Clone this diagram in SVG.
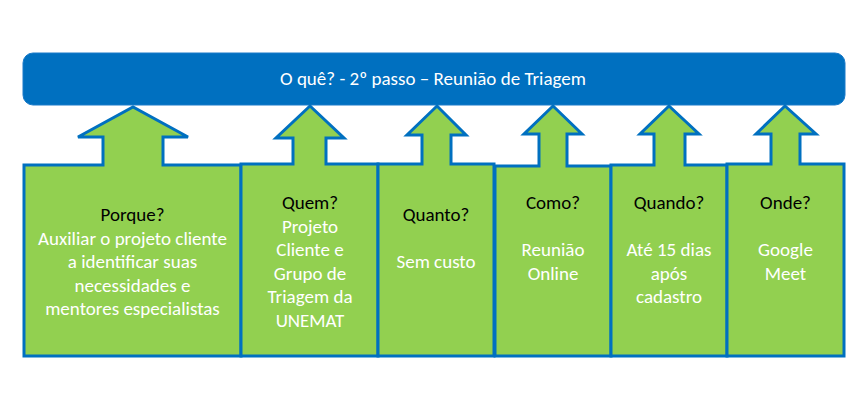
<svg xmlns="http://www.w3.org/2000/svg" width="867" height="410" viewBox="0 0 867 410">
<style>
.shape{fill:#92D050;stroke:#0070C0;stroke-width:3;stroke-linejoin:miter}
text{font-family:Carlito,Lato,"Liberation Sans",sans-serif;font-size:19px;text-anchor:middle}
.h{fill:#000000}
.b{fill:#FFFFFF}
</style>
<rect width="867" height="410" fill="#FFFFFF"/>
<g id="header">
<rect x="23" y="53" width="822" height="52" rx="10" fill="#0070C0" stroke="#1A7BC9" stroke-width="1"/>
<text x="433" y="85" class="b">O quê? - 2º passo – Reunião  de Triagem</text>
</g>
<g id="porque">
<path class="shape" d="M24,165 H103 V137 H78 L133,107 L188,137 H163 V165 H241 V356 H24 Z"/>
<text x="132.5" y="221" class="h">Porque?</text>
<text x="132.5" y="244.5" class="b">Auxiliar  o projeto cliente</text>
<text x="132.5" y="268" class="b">a identificar  suas</text>
<text x="132.5" y="291.5" class="b">necessidades  e</text>
<text x="132.5" y="315" class="b">mentores  especialistas</text>
</g>
<g id="quem">
<path class="shape" d="M241,164 H293 V138 H276 L310,106 L344,138 H326 V164 H378 V356 H241 Z"/>
<text x="310" y="209" class="h">Quem?</text>
<text x="310" y="232.5" class="b">Projeto</text>
<text x="310" y="256" class="b">Cliente  e</text>
<text x="310" y="279.5" class="b">Grupo de</text>
<text x="310" y="303" class="b">Triagem da</text>
<text x="310" y="326.5" class="b">UNEMAT</text>
</g>
<g id="quanto">
<path class="shape" d="M378,164 H422 V135 H407 L437,106 L466,135 H451 V164 H494 V356 H378 Z"/>
<text x="436" y="221" class="h">Quanto?</text>
<text x="436" y="268" class="b">Sem custo</text>
</g>
<g id="como">
<path class="shape" d="M495,166 H539 V134 H524 L553,106 L582,134 H567 V166 H611 V356 H495 Z"/>
<text x="553" y="209" class="h">Como?</text>
<text x="553" y="256" class="b">Reunião</text>
<text x="553" y="279.5" class="b">Online</text>
</g>
<g id="quando">
<path class="shape" d="M611,165 H654 V134 H640 L669,106 L699,134 H685 V165 H727 V356 H611 Z"/>
<text x="669" y="209" class="h">Quando?</text>
<text x="669" y="256" class="b">Até 15 dias</text>
<text x="669" y="279.5" class="b">após</text>
<text x="669" y="303" class="b">cadastro</text>
</g>
<g id="onde">
<path class="shape" d="M727,164 H771 V134 H756 L785,106 L816,134 H800 V164 H844 V356 H727 Z"/>
<text x="785.5" y="209" class="h">Onde?</text>
<text x="785.5" y="256" class="b">Google</text>
<text x="785.5" y="279.5" class="b">Meet</text>
</g>
<g id="connectors"></g>
</svg>
